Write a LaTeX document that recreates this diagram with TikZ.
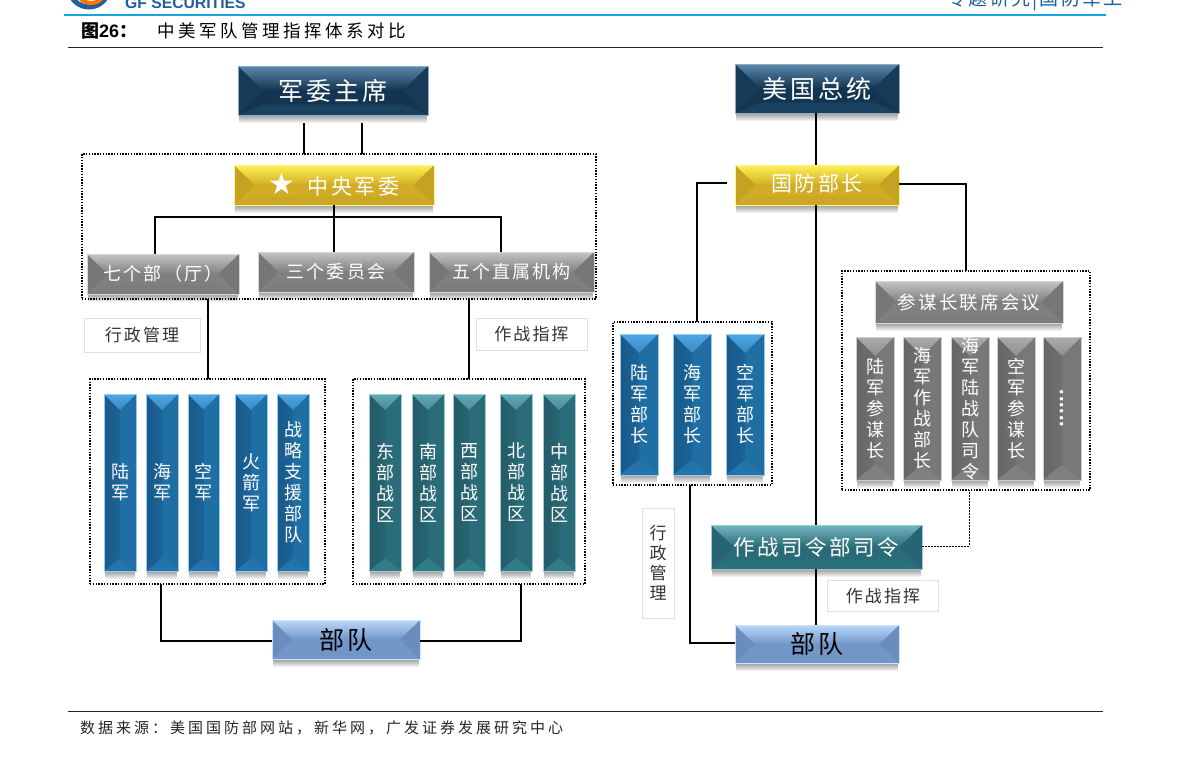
\documentclass[tikz,border=0pt]{standalone}
\usepackage{fontspec}
\setmainfont{Liberation Sans}
\newfontfamily\cjk[LetterSpace=12]{Noto Sans CJK SC}
\newfontfamily\cjkt[LetterSpace=20]{Noto Sans CJK SC}
\newfontfamily\dejavu{DejaVu Sans}
\usetikzlibrary{calc}
\definecolor{navyT}{HTML}{5C88AB}\definecolor{navyM}{HTML}{133551}\definecolor{navyS}{HTML}{163A57}\definecolor{navyE}{HTML}{1A4260}
\definecolor{goldT}{HTML}{FFF255}\definecolor{goldM}{HTML}{D1AC24}\definecolor{goldS}{HTML}{C6A222}\definecolor{goldE}{HTML}{CBA726}
\definecolor{grayT}{HTML}{C4C4C4}\definecolor{grayM}{HTML}{808080}\definecolor{grayS}{HTML}{777777}\definecolor{grayE}{HTML}{7C7C7C}
\definecolor{tealT}{HTML}{72B6C0}\definecolor{tealM}{HTML}{2A6B78}\definecolor{tealS}{HTML}{276572}\definecolor{tealE}{HTML}{2C707D}
\definecolor{lblueT}{HTML}{BAD8FA}\definecolor{lblueM}{HTML}{7197C8}\definecolor{lblueS}{HTML}{698EBD}\definecolor{lblueE}{HTML}{6F96C6}
\definecolor{colblueL}{HTML}{185A8A}\definecolor{colblueR}{HTML}{1F6EA4}\definecolor{colblueT}{HTML}{4FA8E6}\definecolor{colblueB}{HTML}{2474AB}
\definecolor{colgrayL}{HTML}{666666}\definecolor{colgrayR}{HTML}{787878}\definecolor{colgrayT}{HTML}{ABABAB}\definecolor{colgrayB}{HTML}{808080}
\definecolor{coltealL}{HTML}{245C69}\definecolor{coltealR}{HTML}{2B6C79}\definecolor{coltealT}{HTML}{62AAB4}\definecolor{coltealB}{HTML}{327C8A}
\definecolor{hdrblue}{HTML}{16A5DC}\definecolor{gfblue}{HTML}{1F5F9E}
\tikzset{
  conn/.style={line width=1.5pt,black},
  dashconn/.style={line width=.7pt,black,dash pattern=on 2pt off 1pt},
  framebox/.style={draw=black,line width=1.1pt,dash pattern=on 1.4pt off 1.4pt,inner sep=0pt,outer sep=0pt},
  tagbox/.style={draw=black!12,line width=.7pt,inner sep=0pt,outer sep=0pt,font=\cjk\fontsize{17}{20}\selectfont,text=black!80},
  boxtext/.style={inner sep=0pt,outer sep=0pt,align=center},
}
% horizontal bevelled box: name, x1,y1,x2,y2, palette, text colour, font size, text
\newcommand{\bevH}[9]{%
  \pgfmathsetmacro\dd{(#5-#3)*0.52}\pgfmathsetmacro\mm{(#3+#5)/2}%
  \foreach \o in {8,7,6,5,4,3,2,1}{\fill[black,opacity=.055] (#2+1,#3) rectangle (#4-1,#5+\o);}
  \fill[#6M] (#2,#3) rectangle (#4,#5);
  \fill[#6S] (#2,#3) -- (#2+\dd,\mm) -- (#2,#5) -- cycle;
  \fill[#6S] (#4,#3) -- (#4-\dd,\mm) -- (#4,#5) -- cycle;
  \fill[#6E] (#2,#5) -- (#2+\dd,\mm+\dd*.55) -- (#4-\dd,\mm+\dd*.55) -- (#4,#5) -- cycle;
  \shade[top color=#6T,bottom color=#6M] (#2,#3) -- (#4,#3) -- (#4-\dd,\mm) -- (#2+\dd,\mm) -- cycle;
  \node[boxtext,draw=#6T!70!white,line width=.5pt,minimum width={(#4-#2)*1pt},minimum height={(#5-#3)*1pt},text=#7,font=\cjk\fontsize{#8}{#8}\selectfont] (#1) at ({(#2+#4)/2},{(#3+#5)/2}) {#9};}
% vertical column: name, x1,x2,y1,y2, palette, text
\newcommand{\bevV}[7]{%
  \pgfmathsetmacro\dd{(#3-#2)/2}\pgfmathsetmacro\mm{(#2+#3)/2}%
  \foreach \o in {8,7,6,5,4,3,2,1}{\fill[black,opacity=.055] (#2+1,#4) rectangle (#3-1,#5+\o);}
  \fill[#6R] (#2,#4) rectangle (#3,#5);
  \shade[left color=#6L,right color=#6L!50!#6R] (#2,#4) rectangle (\mm,#5);
  \fill[#6B] (#2,#5) -- (\mm,#5-\dd*.8) -- (#3,#5) -- cycle;
  \shade[top color=#6T,bottom color=#6T!60!#6L] (#2,#4) -- (#3,#4) -- (\mm,#4+\dd) -- cycle;
  \node[boxtext,draw=#6T!60!white,line width=.4pt,minimum width={(#3-#2)*1pt},minimum height={(#5-#4)*1pt},text=white,font=\cjk\fontsize{18}{21}\selectfont] (#1) at ({(#2+#3)/2},{(#4+#5)/2}) {#7};}
\begin{document}
\begin{tikzpicture}[x=1pt,y=-1pt]
\useasboundingbox (0,0) rectangle (1191,758);
\clip (0,0) rectangle (1191,758);
% header
\fill[white] (0,0) rectangle (1191,758);
\draw[line width=5pt,color=gfblue] (89,-13) circle (20);
\draw[line width=4pt,color=orange!90!red] (91,-12) circle (15);
\node[anchor=base west,inner sep=0pt,text=gfblue,font=\bfseries\fontsize{15.7}{15}\selectfont] (gf) at (125,8) {GF SECURITIES};
\node[anchor=base east,inner sep=0pt,text=gfblue,font=\cjk\fontsize{19}{19}\selectfont] (rep) at (1123,5) {专题研究|国防军工};
\draw[line width=2pt,hdrblue] (64,14.5) -- (1106,14.5);
\node[anchor=base west,inner sep=0pt,font=\bfseries\fontsize{18}{18}\selectfont] (fig) at (81,37) {{\cjk 图}26{\cjk ：}};
\node[anchor=base west,inner sep=0pt,font=\cjkt\fontsize{17.5}{17}\selectfont] (ttl) at (157,37) {中美军队管理指挥体系对比};
\draw[line width=.9pt,black!85] (68,47.5) -- (1103,47.5);
\draw[line width=.9pt,black!85] (68,711) -- (1103,711);
\node[anchor=base west,inner sep=0pt,font=\cjkt\fontsize{15}{15}\selectfont,text=black!85] (src) at (80,733) {数据来源：美国国防部网站，新华网，广发证券发展研究中心};
% frames
\node[framebox,minimum width=514pt,minimum height=145pt] (fA) at (339,226.5) {};
\node[framebox,minimum width=235pt,minimum height=205pt] (fB) at (207.5,481.5) {};
\node[framebox,minimum width=232pt,minimum height=205pt] (fC) at (469,481.5) {};
\node[framebox,minimum width=159pt,minimum height=163pt] (fD) at (692.5,403.5) {};
\node[framebox,minimum width=248pt,minimum height=219pt] (fE) at (966,380.5) {};
% left tree
\bevH{chair}{238}{66}{428}{115}{navy}{white}{25}{\raisebox{-1.5pt}{军委主席}}
\bevH{cmc}{234}{165}{434}{205}{gold}{white}{21}{\raisebox{3pt}{{\dejavu\fontsize{30}{30}\selectfont ★}\kern 12pt 中央军委}}
\bevH{seven}{87}{254}{239}{294}{gray}{white}{18}{\raisebox{-1.5pt}{七个部（厅）}}
\bevH{three}{258}{252}{414}{292}{gray}{white}{18}{\raisebox{-2.5pt}{三个委员会}}
\bevH{five}{429}{252}{594}{292}{gray}{white}{18}{\raisebox{-2.5pt}{五个直属机构}}
\node[tagbox,minimum width=116pt,minimum height=34pt] (tagL) at (142,335) {行政管理};
\node[tagbox,minimum width=111pt,minimum height=32pt] (tagO) at (531.5,334) {作战指挥};
\bevV{a1}{104}{136}{394}{571}{colblue}{陆\\军}
\bevV{a2}{146}{178}{394}{571}{colblue}{海\\军}
\bevV{a3}{188}{219}{394}{571}{colblue}{空\\军}
\bevV{a4}{235}{267}{394}{571}{colblue}{火\\箭\\军}
\bevV{a5}{277}{309}{394}{571}{colblue}{战\\略\\支\\援\\部\\队}
\bevV{b1}{369}{401}{394}{571}{colteal}{东\\部\\战\\区}
\bevV{b2}{412}{444}{394}{571}{colteal}{南\\部\\战\\区}
\bevV{b3}{453}{485}{394}{571}{colteal}{西\\部\\战\\区}
\bevV{b4}{500}{532}{394}{571}{colteal}{北\\部\\战\\区}
\bevV{b5}{543}{575}{394}{571}{colteal}{中\\部\\战\\区}
\bevH{troopL}{272}{620}{420}{659}{lblue}{black}{25}{部队}
% right tree
\bevH{potus}{735}{64}{899}{113}{navy}{white}{25}{美国总统}
\bevH{secdef}{735}{165}{899}{205}{gold}{white}{21}{\raisebox{5pt}{国防部长}}
\bevH{jcs}{875}{281}{1063}{323}{gray}{white}{18.5}{参谋长联席会议}
\bevV{c1}{620}{658}{334}{475}{colblue}{陆\\军\\部\\长}
\bevV{c2}{673}{711}{334}{475}{colblue}{海\\军\\部\\长}
\bevV{c3}{726}{764}{334}{475}{colblue}{空\\军\\部\\长}
\bevV{d1}{856}{894}{337}{480}{colgray}{陆\\军\\参\\谋\\长}
\bevV{d2}{903}{941}{337}{480}{colgray}{海\\军\\作\\战\\部\\长}
\bevV{d3}{951}{989}{337}{480}{colgray}{海\\军\\陆\\战\\队\\司\\令}
\bevV{d4}{997}{1035}{337}{480}{colgray}{空\\军\\参\\谋\\长}
\bevV{d5}{1043}{1081}{337}{480}{colgray}{\rotatebox{90}{\dejavu\bfseries\fontsize{17}{17}\selectfont ......}}
\bevH{cocom}{711}{525}{922}{569}{teal}{white}{21.5}{作战司令部司令}
\bevH{troopR}{735}{625}{899}{663}{lblue}{black}{25}{部队}
\node[tagbox,minimum width=32pt,minimum height=110pt,align=center,font=\cjk\fontsize{17}{20}\selectfont] (tagV) at (658,563) {行\\政\\管\\理};
\node[tagbox,minimum width=111pt,minimum height=31pt] (tagR) at (883,596) {作战指挥};
% connector anchors
\coordinate (p1) at (304,123);
\coordinate (p2) at (362,123);
\coordinate (bus) at (334,217);
\coordinate (p3) at (727,183);
\coordinate (p4) at (697,183);
\coordinate (p5) at (208,299);
\coordinate (p6) at (469,299);
\coordinate (p7) at (161,641);
\coordinate (p8) at (521,641);
\coordinate (p9) at (690,643);
\coordinate (p10) at (966,184);
\coordinate (p11) at (969,546);
\coordinate (q1) at (155,0);
\coordinate (q2) at (501,0);
\coordinate (q3) at (816,0);
% connectors
\draw[conn] (p1) -- (p1 |- fA.north);
\draw[conn] (p2) -- (p2 |- fA.north);
\draw[conn] (cmc.south -| bus) -- (three.north -| bus);
\draw[conn] (seven.north -| q1) |- (bus) -| (five.north -| q2);
\draw[conn] (p5) -- (p5 |- fB.north);
\draw[conn] (p6) -- (p6 |- fC.north);
\draw[conn] (p7 |- fB.south) |- (troopL.west |- p7);
\draw[conn] (p8 |- fC.south) |- (troopL.east |- p8);
\draw[conn] (potus.south -| q3) -- (secdef.north -| q3);
\draw[conn] (secdef.south -| q3) -- (cocom.north -| q3);
\draw[conn] (cocom.south -| q3) -- (troopR.north -| q3);
\draw[conn] (p3) -- (p4) -- (p4 |- fD.north);
\draw[conn] (secdef.east |- p10) -- (p10) -- (p10 |- fE.north);
\draw[conn] (p9 |- fD.south) -- (p9) -- (p9 -| troopR.west);
\draw[dashconn] (cocom.east |- p11) -- (p11) -- (p11 |- fE.south);
\end{tikzpicture}
\end{document}
